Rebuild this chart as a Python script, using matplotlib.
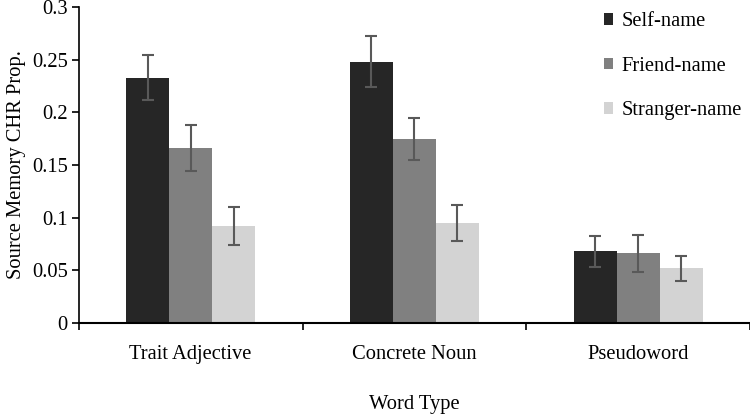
import numpy as np
import matplotlib.pyplot as plt
from matplotlib.ticker import FixedLocator

# Data
categories = ['Trait Adjective', 'Concrete Noun', 'Pseudoword']
series = ['Self-name', 'Friend-name', 'Stranger-name']
self_vals = [0.233, 0.248, 0.068]
friend_vals = [0.166, 0.175, 0.066]
stranger_vals = [0.092, 0.095, 0.052]
self_err = [0.021, 0.024, 0.015]
friend_err = [0.022, 0.020, 0.018]
stranger_err = [0.018, 0.017, 0.012]

colors = ['#262626', '#808080', '#d3d3d3']

plt.rcParams['font.family'] = ['Liberation Serif', 'DejaVu Serif']
plt.rcParams['font.size'] = 14.8

fig = plt.figure(figsize=(7.5, 4.17), dpi=100)
ax = fig.add_axes([0.105, 0.2254, 0.895, 0.758])

x = np.arange(len(categories))
w = 0.192
vals = [self_vals, friend_vals, stranger_vals]
errs = [self_err, friend_err, stranger_err]
for i, (v, e) in enumerate(zip(vals, errs)):
    ax.bar(x + (i - 1) * w, v, w, color=colors[i], label=series[i],
           yerr=e, ecolor='#595959', capsize=4,
           error_kw={'elinewidth': 1.5, 'capthick': 1.5})

ax.set_xlim(-0.5, 2.5)
ax.set_ylim(0, 0.3)
ax.set_yticks([0, 0.05, 0.1, 0.15, 0.2, 0.25, 0.3])
ax.set_yticklabels(['0', '0.05', '0.1', '0.15', '0.2', '0.25', '0.3'])
ax.set_xticks(x)
ax.set_xticklabels(categories)
ax.xaxis.set_minor_locator(FixedLocator([-0.5, 0.5, 1.5, 2.5]))
ax.tick_params(axis='x', which='major', length=0, pad=16)
ax.tick_params(axis='x', which='minor', length=5, width=1.2, direction='out')
ax.tick_params(axis='y', length=5, width=1.2, direction='out', pad=3)

for s in ['top', 'right']:
    ax.spines[s].set_visible(False)
ax.spines['left'].set_linewidth(1.2)
ax.spines['bottom'].set_linewidth(1.5)

ax.set_ylabel('Source Memory CHR Prop.', labelpad=4)
ax.set_xlabel('Word Type', labelpad=22)

ax.legend(loc='upper left', bbox_to_anchor=(0.7705, 1.01), frameon=False,
          labelspacing=1.25, handlelength=0.45, handleheight=0.5,
          handletextpad=0.4, borderaxespad=0)

plt.savefig('out.png', dpi=100)
